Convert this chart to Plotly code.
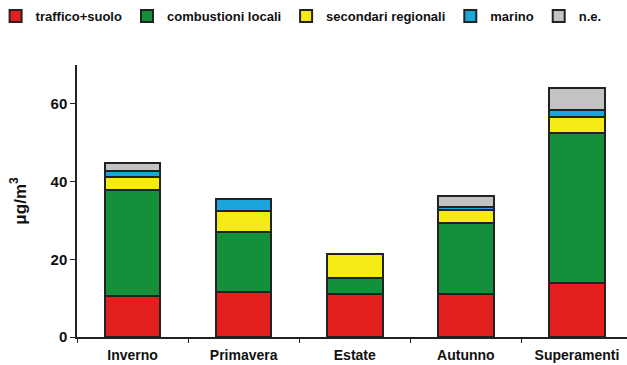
import plotly.graph_objects as go

categories = ["Inverno", "Primavera", "Estate", "Autunno", "Superamenti"]
traffico = [10.6, 11.7, 11.0, 11.0, 13.8]
combustioni = [27.3, 15.4, 4.3, 18.4, 38.7]
secondari = [3.4, 5.2, 6.1, 3.3, 4.0]
marino = [1.3, 3.2, 0.0, 0.8, 1.8]
ne = [2.3, 0.0, 0.0, 2.8, 5.7]

series = [
    ("traffico+suolo", traffico, "#e3201f"),
    ("combustioni locali", combustioni, "#14903a"),
    ("secondari regionali", secondari, "#f5ea14"),
    ("marino", marino, "#1aa6dd"),
    ("n.e.", ne, "#c3c3c3"),
]

fig = go.Figure()
for name, vals, col in series:
    fig.add_trace(go.Bar(
        x=categories, y=vals, name=name,
        marker=dict(color=col, line=dict(color="#222222", width=2)),
        width=0.5,
    ))

font_fam = "Liberation Sans, Arial, sans-serif"
fig.update_layout(
    width=627, height=365,
    barmode="stack",
    paper_bgcolor="white", plot_bgcolor="white",
    margin=dict(l=77, r=0, t=65, b=28, autoexpand=False),
    font=dict(family=font_fam, size=13, color="#111111", weight="bold"),
    showlegend=True,
    legend=dict(
        orientation="h", x=-0.148, y=1.18, xanchor="left", yanchor="middle",
        font=dict(family=font_fam, size=13, color="#111111", weight="bold"),
        itemwidth=30, traceorder="normal", tracegroupgap=0,
    ),
    xaxis=dict(
        range=[-0.5, 4.45], showline=True, linecolor="#222222", linewidth=1.5,
        ticks="outside", tickson="boundaries", ticklen=4, tickcolor="#222222",
        ticklabelstandoff=4,
        tickfont=dict(size=14, weight="bold"),
        showgrid=False, zeroline=False,
    ),
    yaxis=dict(
        range=[0, 70], tickvals=[0, 20, 40, 60], showline=True,
        linecolor="#222222", linewidth=1.5, ticks="outside", ticklen=5,
        tickcolor="#222222", showgrid=False, zeroline=False,
        tickfont=dict(size=15, weight="bold"),
        title=dict(text="μg/m<sup>3</sup>", font=dict(size=17, weight="bold"), standoff=20),
    ),
)

fig.write_html("out.html")
